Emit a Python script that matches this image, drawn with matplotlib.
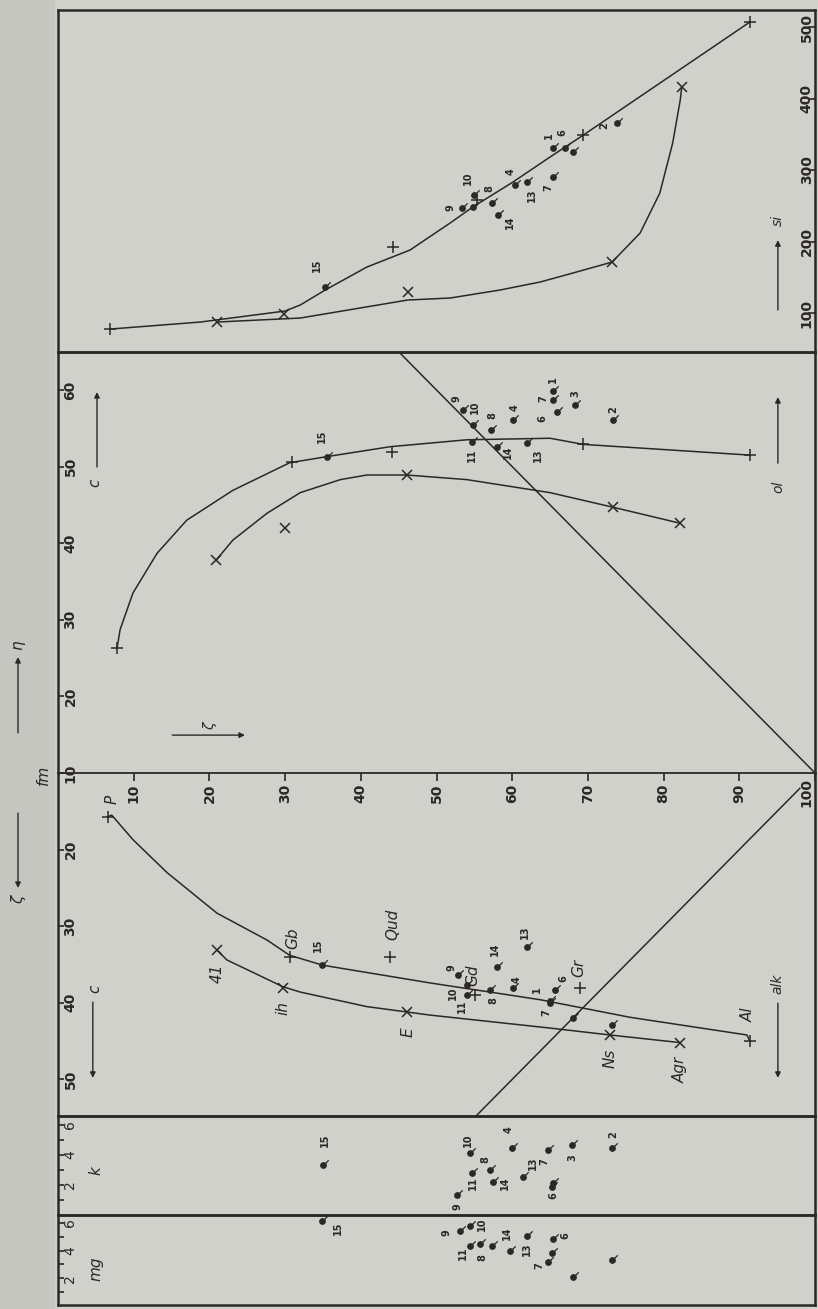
import numpy as np
import matplotlib.pyplot as plt
from matplotlib.path import Path
from matplotlib.patches import Rectangle

# ====================================================================
# DADOS (eixo horizontal comum 0..100 para todos os painéis)
# ====================================================================

# --- painel superior: si ---
si_curva_p_h = [6.9, 18.8, 30.0, 32.0, 35.3, 40.8, 46.5, 51.8, 54.8, 60.1, 65.0, 67.0, 69.4, 91.4]
si_curva_p_v = [77.6, 87.4, 102.8, 111.2, 132.2, 164.3, 188.1, 225.9, 248.3, 283.2, 318.2, 332.2, 348.9, 507.0]
si_curva_x_h = [21.0, 32.0, 46.2, 51.8, 58.4, 63.7, 68.0, 73.2, 76.9, 79.5, 81.2, 82.2, 82.4]
si_curva_x_v = [87.4, 93.0, 118.2, 121.0, 132.2, 143.4, 155.9, 171.3, 211.9, 267.8, 337.8, 397.9, 416.1]
si_mais_h = [6.9, 44.3, 55.3, 69.4, 91.4]
si_mais_v = [77.6, 192.3, 258.0, 348.9, 507.0]
si_xis_h = [21.0, 29.9, 46.2, 73.2, 82.4]
si_xis_v = [87.4, 98.6, 129.4, 171.3, 416.1]
si_rochas = ['15', '9', '10', '11', '8', '14', '4', '13', '7', '1', '6', '3', '2']
si_rochas_h = [35.3, 53.4, 55.0, 54.8, 57.3, 58.1, 60.4, 62.0, 65.4, 65.4, 67.0, 68.0, 73.8]
si_rochas_v = [136.4, 246.9, 265.0, 248.3, 253.8, 237.1, 279.0, 283.2, 290.2, 330.8, 330.8, 325.2, 365.7]

# --- painel c (acima da linha fm) ---
c_curva_p_h = [7.8, 8.2, 9.9, 13.1, 17.0, 23.1, 30.6, 35.5, 43.9, 54.0, 65.0, 69.4, 91.4]
c_curva_p_v = [26.3, 28.7, 33.5, 38.7, 43.0, 46.9, 50.5, 51.3, 52.6, 53.5, 53.7, 52.9, 51.5]
c_curva_x_h = [20.9, 23.1, 27.6, 32.0, 37.3, 40.8, 46.1, 54.0, 65.0, 73.3, 82.2]
c_curva_x_v = [37.8, 40.4, 43.9, 46.6, 48.3, 48.9, 48.9, 48.3, 46.6, 44.7, 42.6]
c_mais_h = [7.8, 30.9, 44.1, 69.4, 91.4]
c_mais_v = [26.3, 50.6, 51.9, 52.9, 51.5]
c_xis_h = [20.9, 30.0, 46.1, 73.3, 82.2]
c_xis_v = [37.8, 42.0, 48.9, 44.7, 42.6]
c_diag_h = [45.0, 100.0]
c_diag_v = [65.0, 10.0]
c_rochas = ['15', '9', '10', '8', '11', '14', '13', '4', '1', '7', '6', '3', '2']
c_rochas_h = [35.5, 53.5, 54.8, 57.2, 54.7, 58.0, 62.0, 60.1, 65.4, 65.4, 65.9, 68.3, 73.3]
c_rochas_v = [51.3, 57.4, 55.4, 54.8, 53.2, 52.6, 53.1, 56.1, 59.9, 58.7, 57.1, 58.0, 56.1]

# --- painel alk (abaixo da linha fm) ---
alk_curva_p_h = [6.6, 7.1, 9.9, 14.4, 21.0, 27.6, 30.6, 35.0, 49.1, 63.7, 75.6, 91.0, 91.4]
alk_curva_p_v = [15.7, 15.5, 18.7, 23.0, 28.3, 31.8, 33.8, 35.1, 37.4, 39.6, 41.9, 44.2, 45.0]
alk_curva_x_h = [21.0, 22.3, 29.7, 32.0, 40.8, 46.1, 49.1, 65.0, 72.9, 82.2]
alk_curva_x_v = [33.1, 34.4, 37.9, 38.6, 40.5, 41.2, 41.6, 43.3, 44.2, 45.2]
alk_diag_h = [98.0, 55.2]
alk_diag_v = [12.0, 54.8]
tipos_p = ['P', 'Gb', 'Qud', 'Gd', 'Gr', 'Al']
tipos_p_h = [6.6, 30.6, 43.9, 55.1, 69.0, 91.4]
tipos_p_v = [15.7, 34.0, 34.0, 39.0, 38.1, 45.0]
tipos_x = ['41', 'ih', 'E', 'Ns', 'Agr']
tipos_x_h = [21.0, 29.7, 46.1, 72.9, 82.2]
tipos_x_v = [33.1, 38.1, 41.2, 44.2, 45.2]
alk_rochas = ['15', '9', '10', '11', '8', '14', '4', '13', '1', '7', '6', '3', '2']
alk_rochas_h = [34.9, 52.8, 54.0, 54.0, 57.1, 58.0, 60.1, 62.0, 65.0, 65.0, 65.7, 68.0, 73.2]
alk_rochas_v = [35.1, 36.4, 37.7, 39.0, 38.3, 35.3, 38.1, 32.7, 39.8, 40.0, 38.3, 42.0, 42.9]

# --- faixa k ---
k_rochas = ['15', '10', '4', '8', '11', '14', '13', '9', '7', '3', '2', '6', '1']
k_rochas_h = [35.0, 54.4, 60.0, 57.1, 54.7, 57.4, 61.4, 52.7, 64.7, 67.9, 73.2, 65.3, 65.4]
k_rochas_v = [0.333, 0.413, 0.447, 0.300, 0.280, 0.220, 0.253, 0.133, 0.433, 0.467, 0.447, 0.187, 0.213]

# --- faixa mg ---
mg_rochas = ['15', '9', '10', '11', '8', '', '14', '13', '7', '6', '1', '3', '2']
mg_rochas_h = [34.9, 53.1, 54.4, 54.4, 57.3, 55.7, 59.7, 62.0, 64.7, 65.4, 65.3, 68.0, 73.2]
mg_rochas_v = [0.614, 0.543, 0.579, 0.436, 0.436, 0.450, 0.400, 0.507, 0.314, 0.486, 0.379, 0.207, 0.329]

# rótulos dos eixos
fm_ticks = [10, 20, 30, 40, 50, 60, 70, 80, 90, 100]
c_ticks = [10, 20, 30, 40, 50, 60]
alk_ticks = [20, 30, 40, 50]
si_ticks = [100, 200, 300, 400, 500]
km_ticks = [0.2, 0.4, 0.6]
km_rotulos = ['2', '4', '6']

# ====================================================================
# ESTILO / POSIÇÕES DOS RÓTULOS (deslocamento em pixels)
# ====================================================================

W, H = 818, 1309
FUNDO = '#d1d1cb'
FORA = '#c6c6c0'
TINTA = '#2b2729'

desl_si = {'15': (-8, 22), '9': (-12, 0), '10': (-6, 17), '11': None, '8': (-2, 14),
           '14': (12, -7), '4': (-5, 13), '13': (5, -13), '7': (-5, -11),
           '1': (-4, 12), '6': (-3, 15), '3': None, '2': (-12, -3)}
desl_c = {'15': (-5, 20), '9': (-6, 11), '10': (2, 18), '8': (1, 14), '11': (0, -13),
          '14': (11, -6), '13': (11, -12), '4': (2, 12), '1': (0, 11), '7': (-10, 1),
          '6': (-14, -6), '3': (0, 12), '2': (0, 10)}
desl_alk = {'15': (-4, 20), '9': (-6, 8), '10': (-14, -8), '11': (-5, -11), '8': (3, -11),
            '14': (-2, 18), '4': (4, 9), '13': (-2, 15), '1': (-13, 12), '7': (-4, -10),
            '6': (8, 11), '3': None, '2': None}
desl_k = {'15': (2, 25), '10': (-2, 13), '4': (-4, 18), '8': (-5, 10), '11': (1, -10),
          '14': (12, -1), '13': (10, 14), '9': (1, -12), '7': (-3, -12), '3': (0, -13),
          '2': (1, 13), '6': (1, -9), '1': None}
desl_mg = {'15': (16, -7), '9': (-13, -2), '10': (12, 2), '11': (-7, -8), '8': (-9, -12),
           '': None, '14': (-3, 17), '13': (0, -13), '7': (-8, -3), '6': (12, 3),
           '1': None, '3': None, '2': None}
desl_tipos = {'P': (4, 17), 'Gb': (3, 19), 'Qud': (3, 32), 'Gd': (-2, 20), 'Gr': (-2, 20),
              'Al': (-2, 26), '41': (0, -23), 'ih': (0, -20), 'E': (1, -20),
              'Ns': (0, -23), 'Agr': (0, -27)}

# marcador "alfinete": ponto com um pequeno traço
PINO = Path.make_compound_path(Path.unit_circle(),
                               Path([(0.7, 0.7), (1.9, 1.9)], [Path.MOVETO, Path.LINETO]))


def painel(fig, y0, y1, ylim):
    """Cria um eixo ocupando as linhas de pixel y0..y1 da figura."""
    ax = fig.add_axes([58 / W, 1 - y1 / H, 757 / W, (y1 - y0) / H])
    ax.set_xlim(0, 100)
    ax.set_ylim(*ylim)
    ax.set_facecolor('none')
    ax.set_xticks([])
    ax.set_yticks([])
    for s in ax.spines.values():
        s.set_color(TINTA)
        s.set_linewidth(1.8)
    return ax


def rochas(ax, nomes, hs, vs, desl):
    ax.plot(hs, vs, linestyle='none', marker=PINO, ms=7.5, color=TINTA,
            mec=TINTA, mew=0.9, zorder=4)
    for n, h, v in zip(nomes, hs, vs):
        d = desl.get(n)
        if d is None or n == '':
            continue
        ax.annotate(n, (h, v), xytext=d, textcoords='offset pixels',
                    ha='center', va='center', rotation=90, fontsize=7,
                    fontweight='bold', color=TINTA)


def curva(ax, hs, vs):
    ax.plot(hs, vs, color=TINTA, lw=1.1, zorder=3)


def mais(ax, hs, vs):
    ax.plot(hs, vs, linestyle='none', marker='+', ms=8, mew=1.1, color=TINTA, zorder=5)


def xis(ax, hs, vs):
    ax.plot(hs, vs, linestyle='none', marker='x', ms=6.5, mew=1.1, color=TINTA, zorder=5)


def seta(ax, p0, p1, rotulo=None, pos=None, fs=11):
    ax.annotate('', xy=p1, xytext=p0, xycoords='axes fraction', textcoords='axes fraction',
                arrowprops=dict(arrowstyle='-|>', color=TINTA, lw=1.0,
                                mutation_scale=8, shrinkA=0, shrinkB=0))
    if rotulo:
        ax.annotate(rotulo, pos, xycoords='axes fraction', ha='center', va='center',
                    rotation=90, fontsize=fs, style='italic', color=TINTA)


fig = plt.figure(figsize=(W / 100, H / 100), dpi=100)
fig.patch.set_facecolor(FUNDO)

# eixo invisível na figura toda, para o que fica fora da moldura
ax_fora = fig.add_axes([0, 0, 1, 1])
ax_fora.set_axis_off()
ax_fora.add_patch(Rectangle((0, 0), 55 / W, 1, transform=ax_fora.transAxes,
                            facecolor=FORA, edgecolor='none', zorder=0))

ax_si = painel(fig, 10, 352, (45.5, 523.8))
ax_c = painel(fig, 352, 773, (10, 64.96))
ax_alk = painel(fig, 773, 1116, (54.78, 10))
ax_k = painel(fig, 1116, 1215, (0, 0.66))
ax_mg = painel(fig, 1215, 1305, (0.007, 0.657))

ax_c.spines['bottom'].set_linewidth(1.3)
ax_alk.spines['top'].set_visible(False)

# --- painel si ---
curva(ax_si, si_curva_p_h, si_curva_p_v)
curva(ax_si, si_curva_x_h, si_curva_x_v)
mais(ax_si, si_mais_h, si_mais_v)
xis(ax_si, si_xis_h, si_xis_v)
rochas(ax_si, si_rochas, si_rochas_h, si_rochas_v, desl_si)
ax_si.set_yticks(si_ticks)
ax_si.yaxis.tick_right()
ax_si.tick_params(axis='y', direction='in', length=5, width=1.2, color=TINTA, labelright=False)
for t in si_ticks:
    ax_si.text(0.989, t, str(t), transform=ax_si.get_yaxis_transform(), rotation=90,
               ha='center', va='center', fontsize=10, fontweight='bold', color=TINTA)
seta(ax_si, (0.951, 0.123), (0.951, 0.327), 'si', (0.951, 0.385), fs=10)

# --- painel c ---
ax_c.plot(c_diag_h, c_diag_v, color=TINTA, lw=1.1, zorder=2)
curva(ax_c, c_curva_p_h, c_curva_p_v)
curva(ax_c, c_curva_x_h, c_curva_x_v)
mais(ax_c, c_mais_h, c_mais_v)
xis(ax_c, c_xis_h, c_xis_v)
rochas(ax_c, c_rochas, c_rochas_h, c_rochas_v, desl_c)
ax_c.set_yticks(c_ticks)
ax_c.tick_params(axis='y', direction='in', length=4, width=1.2, color=TINTA, labelleft=False)
for t in c_ticks:
    ax_c.text(0.0165, t, str(t), transform=ax_c.get_yaxis_transform(), rotation=90,
              ha='center', va='center', fontsize=10, fontweight='bold', color=TINTA)
ax_c.set_xticks(fm_ticks)
ax_c.tick_params(axis='x', direction='out', length=6, width=1.2, color=TINTA, labelbottom=False)
for t in fm_ticks:
    # o "100" encosta na moldura direita
    ax_alk.text(min(t, 98.9), 0.942, str(t), transform=ax_alk.get_xaxis_transform(),
                rotation=90, ha='center', va='center', fontsize=10, fontweight='bold',
                color=TINTA)
seta(ax_c, (0.0515, 0.727), (0.0515, 0.905), 'c', (0.049, 0.69))
seta(ax_c, (0.151, 0.090), (0.247, 0.090), 'ζ', (0.201, 0.112), fs=10)
seta(ax_c, (0.951, 0.736), (0.951, 0.893), 'ol', (0.951, 0.68), fs=10)

# --- painel alk ---
ax_alk.plot(alk_diag_h, alk_diag_v, color=TINTA, lw=1.1, zorder=2)
curva(ax_alk, alk_curva_p_h, alk_curva_p_v)
curva(ax_alk, alk_curva_x_h, alk_curva_x_v)
mais(ax_alk, tipos_p_h, tipos_p_v)
xis(ax_alk, tipos_x_h, tipos_x_v)
for n, h, v in list(zip(tipos_p, tipos_p_h, tipos_p_v)) + list(zip(tipos_x, tipos_x_h, tipos_x_v)):
    ax_alk.annotate(n, (h, v), xytext=desl_tipos[n], textcoords='offset pixels',
                    ha='center', va='center', rotation=90, fontsize=11,
                    style='italic', color=TINTA)
rochas(ax_alk, alk_rochas, alk_rochas_h, alk_rochas_v, desl_alk)
ax_alk.set_yticks(alk_ticks)
ax_alk.tick_params(axis='y', direction='in', length=4, width=1.2, color=TINTA, labelleft=False)
for t in alk_ticks:
    ax_alk.text(0.0165, t, str(t), transform=ax_alk.get_yaxis_transform(), rotation=90,
                ha='center', va='center', fontsize=10, fontweight='bold', color=TINTA)
seta(ax_alk, (0.046, 0.332), (0.046, 0.111), 'c', (0.049, 0.37))
seta(ax_alk, (0.951, 0.329), (0.951, 0.111), 'alk', (0.951, 0.385), fs=10)

# --- faixas k e mg ---
for ax, nome, pos in ((ax_k, 'k', 0.45), (ax_mg, 'mg', 0.40)):
    ax.set_yticks([0.1, 0.2, 0.3, 0.4, 0.5, 0.6])
    ax.tick_params(axis='y', direction='in', length=4, width=1.2, color=TINTA, labelleft=False)
    for t, r in zip(km_ticks, km_rotulos):
        ax.text(0.0165, t, r, transform=ax.get_yaxis_transform(), rotation=90,
                ha='center', va='center', fontsize=10, color=TINTA)
    ax.text(0.05, pos, nome, transform=ax.transAxes, rotation=90, ha='center',
            va='center', fontsize=11, style='italic', color=TINTA)
rochas(ax_k, k_rochas, k_rochas_h, k_rochas_v, desl_k)
rochas(ax_mg, mg_rochas, mg_rochas_h, mg_rochas_v, desl_mg)

# --- textos fora da moldura ---
ax_fora.text(43 / W, 1 - 775 / H, 'fm', rotation=90, ha='center', va='center',
             fontsize=11, style='italic', color=TINTA)
seta(ax_fora, (18 / W, 1 - 733 / H), (18 / W, 1 - 657 / H), 'η', (18 / W, 1 - 645 / H))
seta(ax_fora, (18 / W, 1 - 813 / H), (18 / W, 1 - 888 / H), 'ζ', (19 / W, 1 - 900 / H))

fig.savefig('out.png', dpi=100, facecolor=fig.get_facecolor())
